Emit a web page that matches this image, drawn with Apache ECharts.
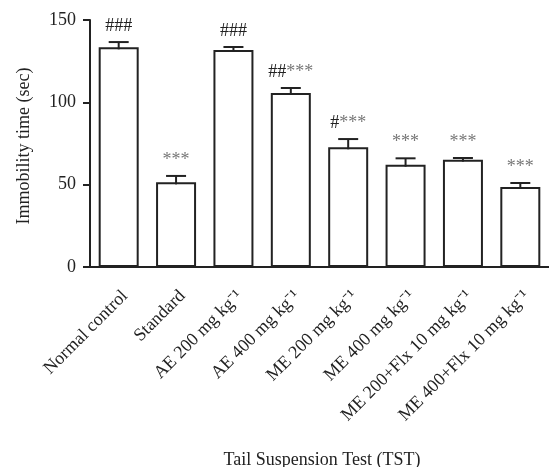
<!DOCTYPE html>
<html>
<head>
<meta charset="utf-8">
<script src="https://cdn.jsdelivr.net/npm/echarts@6/dist/echarts.min.js"></script>
<style>
html,body{margin:0;padding:0;background:#fff;}
#chart{width:549px;height:467px;}
</style>
</head>
<body>
<div id="chart"></div>
<script>
const categories = [
  'Normal control',
  'Standard',
  'AE 200 mg kg\u207B\u00B9',
  'AE 400 mg kg\u207B\u00B9',
  'ME 200 mg kg\u207B\u00B9',
  'ME 400 mg kg\u207B\u00B9',
  'ME 200+Flx 10 mg kg\u207B\u00B9',
  'ME 400+Flx 10 mg kg\u207B\u00B9'
];
const immobility = [133.4, 51.4, 131.8, 105.7, 72.7, 62.1, 65.2, 48.6];
const errors = [3.2, 3.9, 1.8, 3.0, 5.0, 3.9, 1.0, 2.4];
const significance = ['###', '***', '###', '##***', '#***', '***', '***', '***'];
const yTicks = [0, 50, 100, 150];
const xTitle = 'Tail Suspension Test (TST)';
const yTitle = 'Immobility time (sec)';

const FONT = 'Liberation Serif';
const INK = '#222';

function richMark(s) {
  const hashes = (s.match(/#/g) || []).join('');
  const stars = (s.match(/\*/g) || []).join('');
  let out = '';
  if (hashes) out += '{h|' + hashes + '}';
  if (stars) out += '{s|' + stars + '}';
  return out;
}

const chart = echarts.init(document.getElementById('chart'), null, {renderer: 'canvas'});
chart.setOption({
  animation: false,
  backgroundColor: '#fff',
  grid: {left: 90, right: -6, top: 20, bottom: 200, containLabel: false},
  graphic: [
    {type: 'text', x: 322, y: 460,
     style: {text: xTitle, fontFamily: FONT, fontSize: 18, fill: INK, align: 'center', verticalAlign: 'middle'}},
    {type: 'text', x: 24, y: 146, rotation: Math.PI / 2,
     style: {text: yTitle, fontFamily: FONT, fontSize: 18, fill: INK, align: 'center', verticalAlign: 'middle'}}
  ],
  xAxis: {
    type: 'category',
    data: categories,
    axisLine: {lineStyle: {color: INK, width: 2}},
    axisTick: {alignWithLabel: true, length: 7, lineStyle: {color: INK, width: 2}},
    axisLabel: {rotate: 45, align: 'right', verticalAlign: 'top', fontFamily: FONT, fontSize: 18,
      color: INK, margin: 20, interval: 0},
    splitLine: {show: false}
  },
  yAxis: {
    type: 'value',
    min: 0, max: 150, interval: 50,
    axisLine: {show: true, lineStyle: {color: INK, width: 2}},
    axisTick: {show: true, length: 7, lineStyle: {color: INK, width: 2}},
    axisLabel: {fontFamily: FONT, fontSize: 18, color: INK, margin: 14,
      formatter: v => yTicks.includes(v) ? String(v) : ''},
    splitLine: {show: false}
  },
  series: [
    {
      type: 'bar',
      data: immobility,
      barWidth: 40,
      itemStyle: {color: '#fff', borderColor: INK, borderWidth: 2},
      z: 3
    },
    {
      type: 'custom',
      z: 4,
      data: immobility.map((v, i) => [i, v, errors[i], i]),
      renderItem: function (params, api) {
        const i = api.value(0), v = api.value(1), e = api.value(2), idx = api.value(3);
        const top = api.coord([i, v]);
        const cap = api.coord([i, v + e]);
        const hw = 10;
        return {
          type: 'group',
          children: [
            {type: 'line', shape: {x1: top[0], y1: top[1] + 2, x2: cap[0], y2: cap[1]},
             style: {stroke: INK, lineWidth: 2}},
            {type: 'line', shape: {x1: cap[0] - hw, y1: cap[1], x2: cap[0] + hw, y2: cap[1]},
             style: {stroke: INK, lineWidth: 2}},
            {type: 'text', x: cap[0], y: cap[1] - 7,
             style: {
               text: richMark(significance[idx]),
               align: 'center', verticalAlign: 'bottom',
               fontFamily: FONT, fontSize: 18,
               rich: {
                 h: {fontFamily: FONT, fontSize: 18, fill: INK, color: INK},
                 s: {fontFamily: FONT, fontSize: 18, fill: '#777', color: '#777'}
               }
             }}
          ]
        };
      }
    }
  ]
});
</script>
</body>
</html>
